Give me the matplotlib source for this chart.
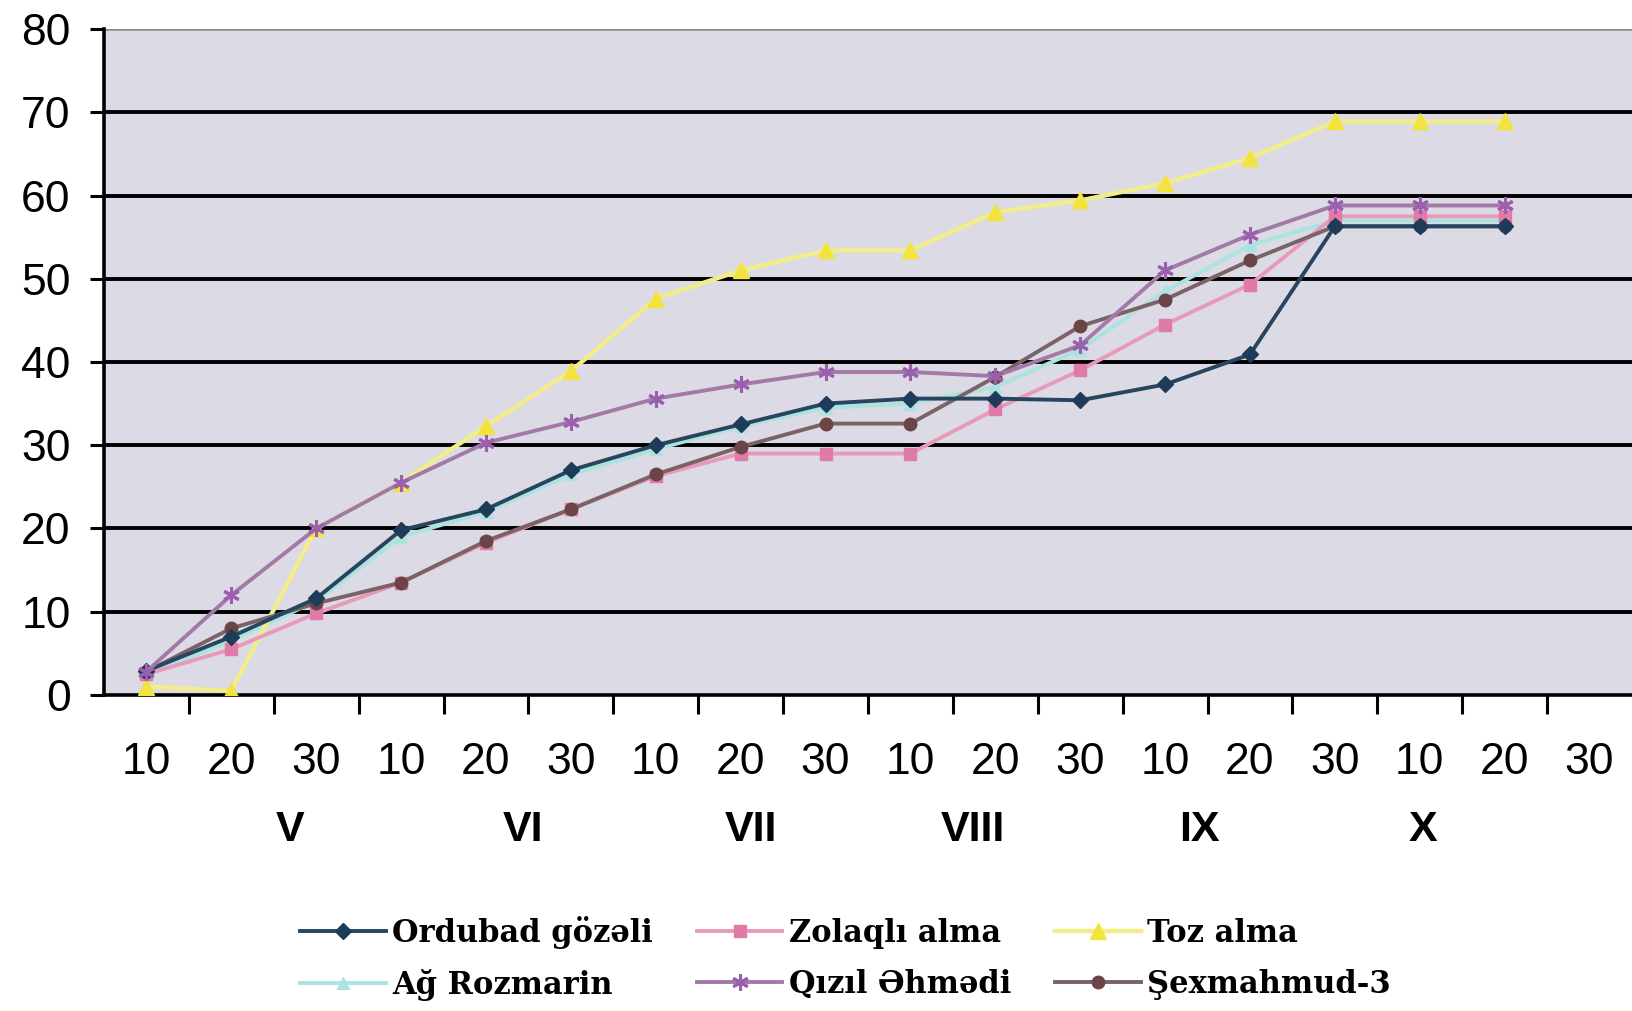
import matplotlib
matplotlib.use("Agg")
import matplotlib.pyplot as plt
import matplotlib.transforms as mtransforms
import numpy as np

# ---- data ----
day_labels = ["10", "20", "30"] * 6
months = ["V", "VI", "VII", "VIII", "IX", "X"]
month_pos = [1.69, 4.44, 7.12, 9.73, 12.40, 15.04]

ordubad = [2.9, 7.0, 11.6, 19.8, 22.3, 27.0, 30.0, 32.5, 35.0, 35.6, 35.6, 35.4, 37.3, 40.9, 56.3, 56.3, 56.3]
zolaqli = [2.5, 5.5, 9.8, 13.5, 18.3, 22.3, 26.3, 29.0, 29.0, 29.0, 34.3, 39.0, 44.5, 49.3, 57.5, 57.5, 57.5]
toz = [1.0, 0.5, 20.0, 25.5, 32.3, 38.9, 47.6, 51.0, 53.4, 53.4, 58.0, 59.4, 61.5, 64.5, 68.9, 68.9, 68.9]
ag_rozmarin = [2.5, 6.5, 11.3, 19.0, 22.0, 26.5, 29.5, 32.3, 34.5, 35.0, 37.0, 41.5, 48.5, 54.0, 57.0, 57.0, 57.0]
qizil = [2.8, 12.0, 20.0, 25.5, 30.3, 32.8, 35.6, 37.3, 38.8, 38.8, 38.3, 42.0, 51.0, 55.3, 58.8, 58.8, 58.8]
sexmahmud = [2.8, 8.0, 11.0, 13.5, 18.5, 22.3, 26.5, 29.8, 32.6, 32.6, 38.2, 44.3, 47.5, 52.2, 56.3, 56.3, 56.3]

names = ["Ordubad gözəli", "Zolaqlı alma", "Toz alma", "Ağ Rozmarin", "Qızıl Əhmədi", "Şexmahmud-3"]

fig = plt.figure(figsize=(16.32, 10.11), dpi=100)
ax = fig.add_axes([0.0637, 0.3126, 0.9363, 0.6587])
ax.set_facecolor("#dcdae4")

x = np.arange(len(ordubad))

lw = 2.8
h_ag, = ax.plot(x, ag_rozmarin, color="#a9e4df", lw=lw, marker="^", ms=8,
                mfc="#a9e4df", mec="#a9e4df", zorder=3, label=names[3])
h_toz, = ax.plot(x, toz, color="#f2ec8a", lw=lw + 0.4, marker="^", ms=11,
                 mfc="#f2e43c", mec="#f2e43c", zorder=3, label=names[2])
h_zol, = ax.plot(x, zolaqli, color="#e89abb", lw=lw, marker="s", ms=9,
                 mfc="#e07aa8", mec="#e07aa8", zorder=4, label=names[1])
h_sex, = ax.plot(x, sexmahmud, color="#7a6266", lw=lw, marker="o", ms=9,
                 mfc="#6b4446", mec="#6b4446", zorder=5, label=names[5])
h_ord, = ax.plot(x, ordubad, color="#27455f", lw=lw, marker="D", ms=8,
                 mfc="#1f3b5a", mec="#1f3b5a", zorder=6, label=names[0])
h_qiz, = ax.plot(x, qizil, color="#a27aa8", lw=lw, marker=(6, 2, 0), ms=12,
                 mfc="#9b5fb0", mec="#9b5fb0", mew=2.2, zorder=6, label=names[4])

ax.set_xlim(-0.5, 17.5)
ax.set_ylim(0, 80)

# horizontal gridlines
for v in range(10, 80, 10):
    ax.axhline(v, color="black", lw=2.8, zorder=2)
ax.axhline(80, color="#8a8a8a", lw=1.8, zorder=2)

for s in ["top", "right"]:
    ax.spines[s].set_visible(False)
ax.spines["left"].set_linewidth(2.6)
ax.spines["bottom"].set_linewidth(2.6)

ax.set_yticks(np.arange(0, 81, 10))
ax.tick_params(axis="y", length=10, width=2.2, pad=14, labelsize=32)
for t in ax.get_yticklabels():
    t.set_fontfamily("Liberation Sans")

ax.set_xticks(np.arange(0.5, 17.5, 1.0))
ax.set_xticklabels([])
ax.tick_params(axis="x", which="major", length=14, width=2.2, direction="out")
ax.set_xticks(x.tolist() + [17], minor=True)
ax.set_xticklabels(day_labels, minor=True, fontsize=32, fontfamily="Liberation Sans")
ax.tick_params(axis="x", which="minor", length=0, pad=34)

trans = mtransforms.blended_transform_factory(ax.transData, ax.transAxes)
for m, p in zip(months, month_pos):
    ax.text(p, -0.203, m, transform=trans, ha="center", va="center",
            fontsize=31, fontweight="bold", fontfamily="Liberation Sans")

handles = [h_ord, h_ag, h_zol, h_qiz, h_toz, h_sex]
fig.legend(handles=handles, labels=[h.get_label() for h in handles],
           loc="center", bbox_to_anchor=(0.518, 0.052), ncol=3, frameon=False,
           prop={"family": "DejaVu Serif", "weight": "bold", "size": 22},
           handlelength=2.8, handletextpad=0.2, columnspacing=1.45,
           labelspacing=0.65)

fig.savefig("out.png", dpi=100)
